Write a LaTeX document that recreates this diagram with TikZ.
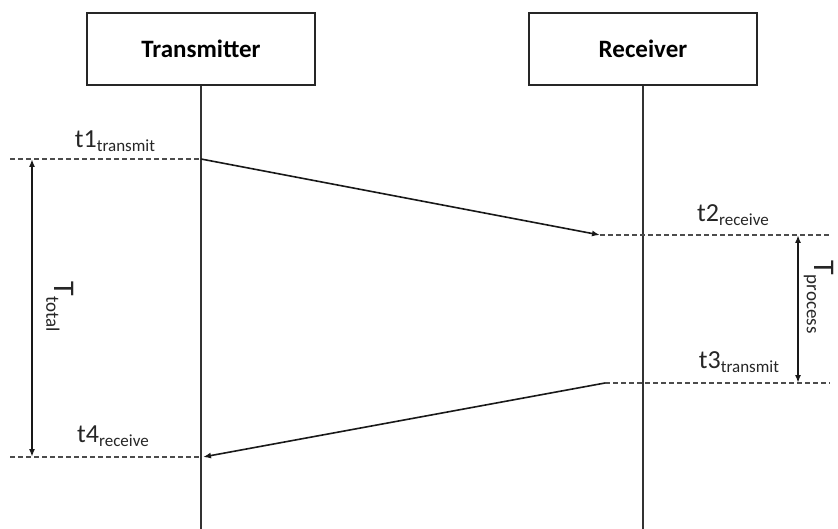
\documentclass[tikz,border=0pt]{standalone}
\usepackage{fontspec}
\setmainfont{Carlito}
\usetikzlibrary{arrows.meta}

\newcommand{\tsub}[2]{#1\raisebox{-4.5pt}{\fontsize{17}{17}\selectfont #2}}
\newcommand{\Tsub}[2]{#1\raisebox{-8pt}{\fontsize{19}{19}\selectfont #2}}

\begin{document}
\begin{tikzpicture}[x=10pt,y=10pt]
     \tikzstyle{party}=[draw=black!85, line width=1.5pt, minimum width=228pt, minimum height=72pt, font=\fontsize{25}{30}\selectfont\bfseries]
     \tikzstyle{life}=[black!80, line width=1.6pt]
     \tikzstyle{msg}=[black!90, line width=1.6pt, -{Latex[length=8pt,width=6pt]}]
     \tikzstyle{tick}=[black!70, line width=1.2pt, dash pattern=on 5pt off 3pt]
     \tikzstyle{span}=[black!90, line width=1.6pt, {Latex[length=8pt,width=6pt]}-{Latex[length=8pt,width=6pt]}]
     \tikzstyle{lbl}=[inner sep=0pt, text=black!85, font=\fontsize{26}{30}\selectfont]
     \useasboundingbox (0,0) rectangle (83.8,-52.9);
     % parties and lifelines
     \node [party] (tx) at (20.1,-4.9) {Transmitter};
     \node [party] (rx) at (64.3,-4.9) {Receiver};
     \coordinate (txend) at (20.1,-52.9);
     \coordinate (rxend) at (64.3,-52.9);
     \draw [life] (tx.south) -- (txend);
     \draw [life] (rx.south) -- (rxend);
     % time marks
     \coordinate (t1) at (20.1,-15.9);
     \coordinate (t1l) at (1.0,-15.9);
     \coordinate (t2) at (60.0,-23.5);
     \coordinate (t2r) at (83.0,-23.5);
     \coordinate (t3) at (60.5,-38.3);
     \coordinate (t3r) at (83.0,-38.3);
     \coordinate (t4) at (20.3,-45.7);
     \coordinate (t4l) at (1.0,-45.7);
     \draw [tick] (t1l) -- (t1);
     \draw [tick] (t2) -- (t2r);
     \draw [tick] (t3) -- (t3r);
     \draw [tick] (t4l) -- (20.1,-45.7);
     % messages
     \draw [msg] (t1) -- (t2);
     \draw [msg] (t3) -- (t4);
     % spans
     \coordinate (tota) at (3.2,-15.9);
     \coordinate (totb) at (3.2,-45.7);
     \coordinate (proa) at (79.8,-23.5);
     \coordinate (prob) at (79.8,-38.3);
     \draw [span] (tota) -- (totb);
     \draw [span] (proa) -- (prob);
     % labels
     \node [lbl] (t1lbl) at (11.5,-14.1) {\tsub{t1}{transmit}};
     \node [lbl] (t2lbl) at (73.3,-21.5) {\tsub{t2}{receive}};
     \node [lbl] (t3lbl) at (73.9,-36.2) {\tsub{t3}{transmit}};
     \node [lbl] (t4lbl) at (11.3,-43.6) {\tsub{t4}{receive}};
     \node [lbl, rotate=-90, font=\fontsize{30}{36}\selectfont] (ttot) at (6.0,-30.7) {\Tsub{T}{total}};
     \node [lbl, rotate=-90, font=\fontsize{30}{36}\selectfont] (tpro) at (81.9,-29.7) {\Tsub{T}{process}};
\end{tikzpicture}
\end{document}
